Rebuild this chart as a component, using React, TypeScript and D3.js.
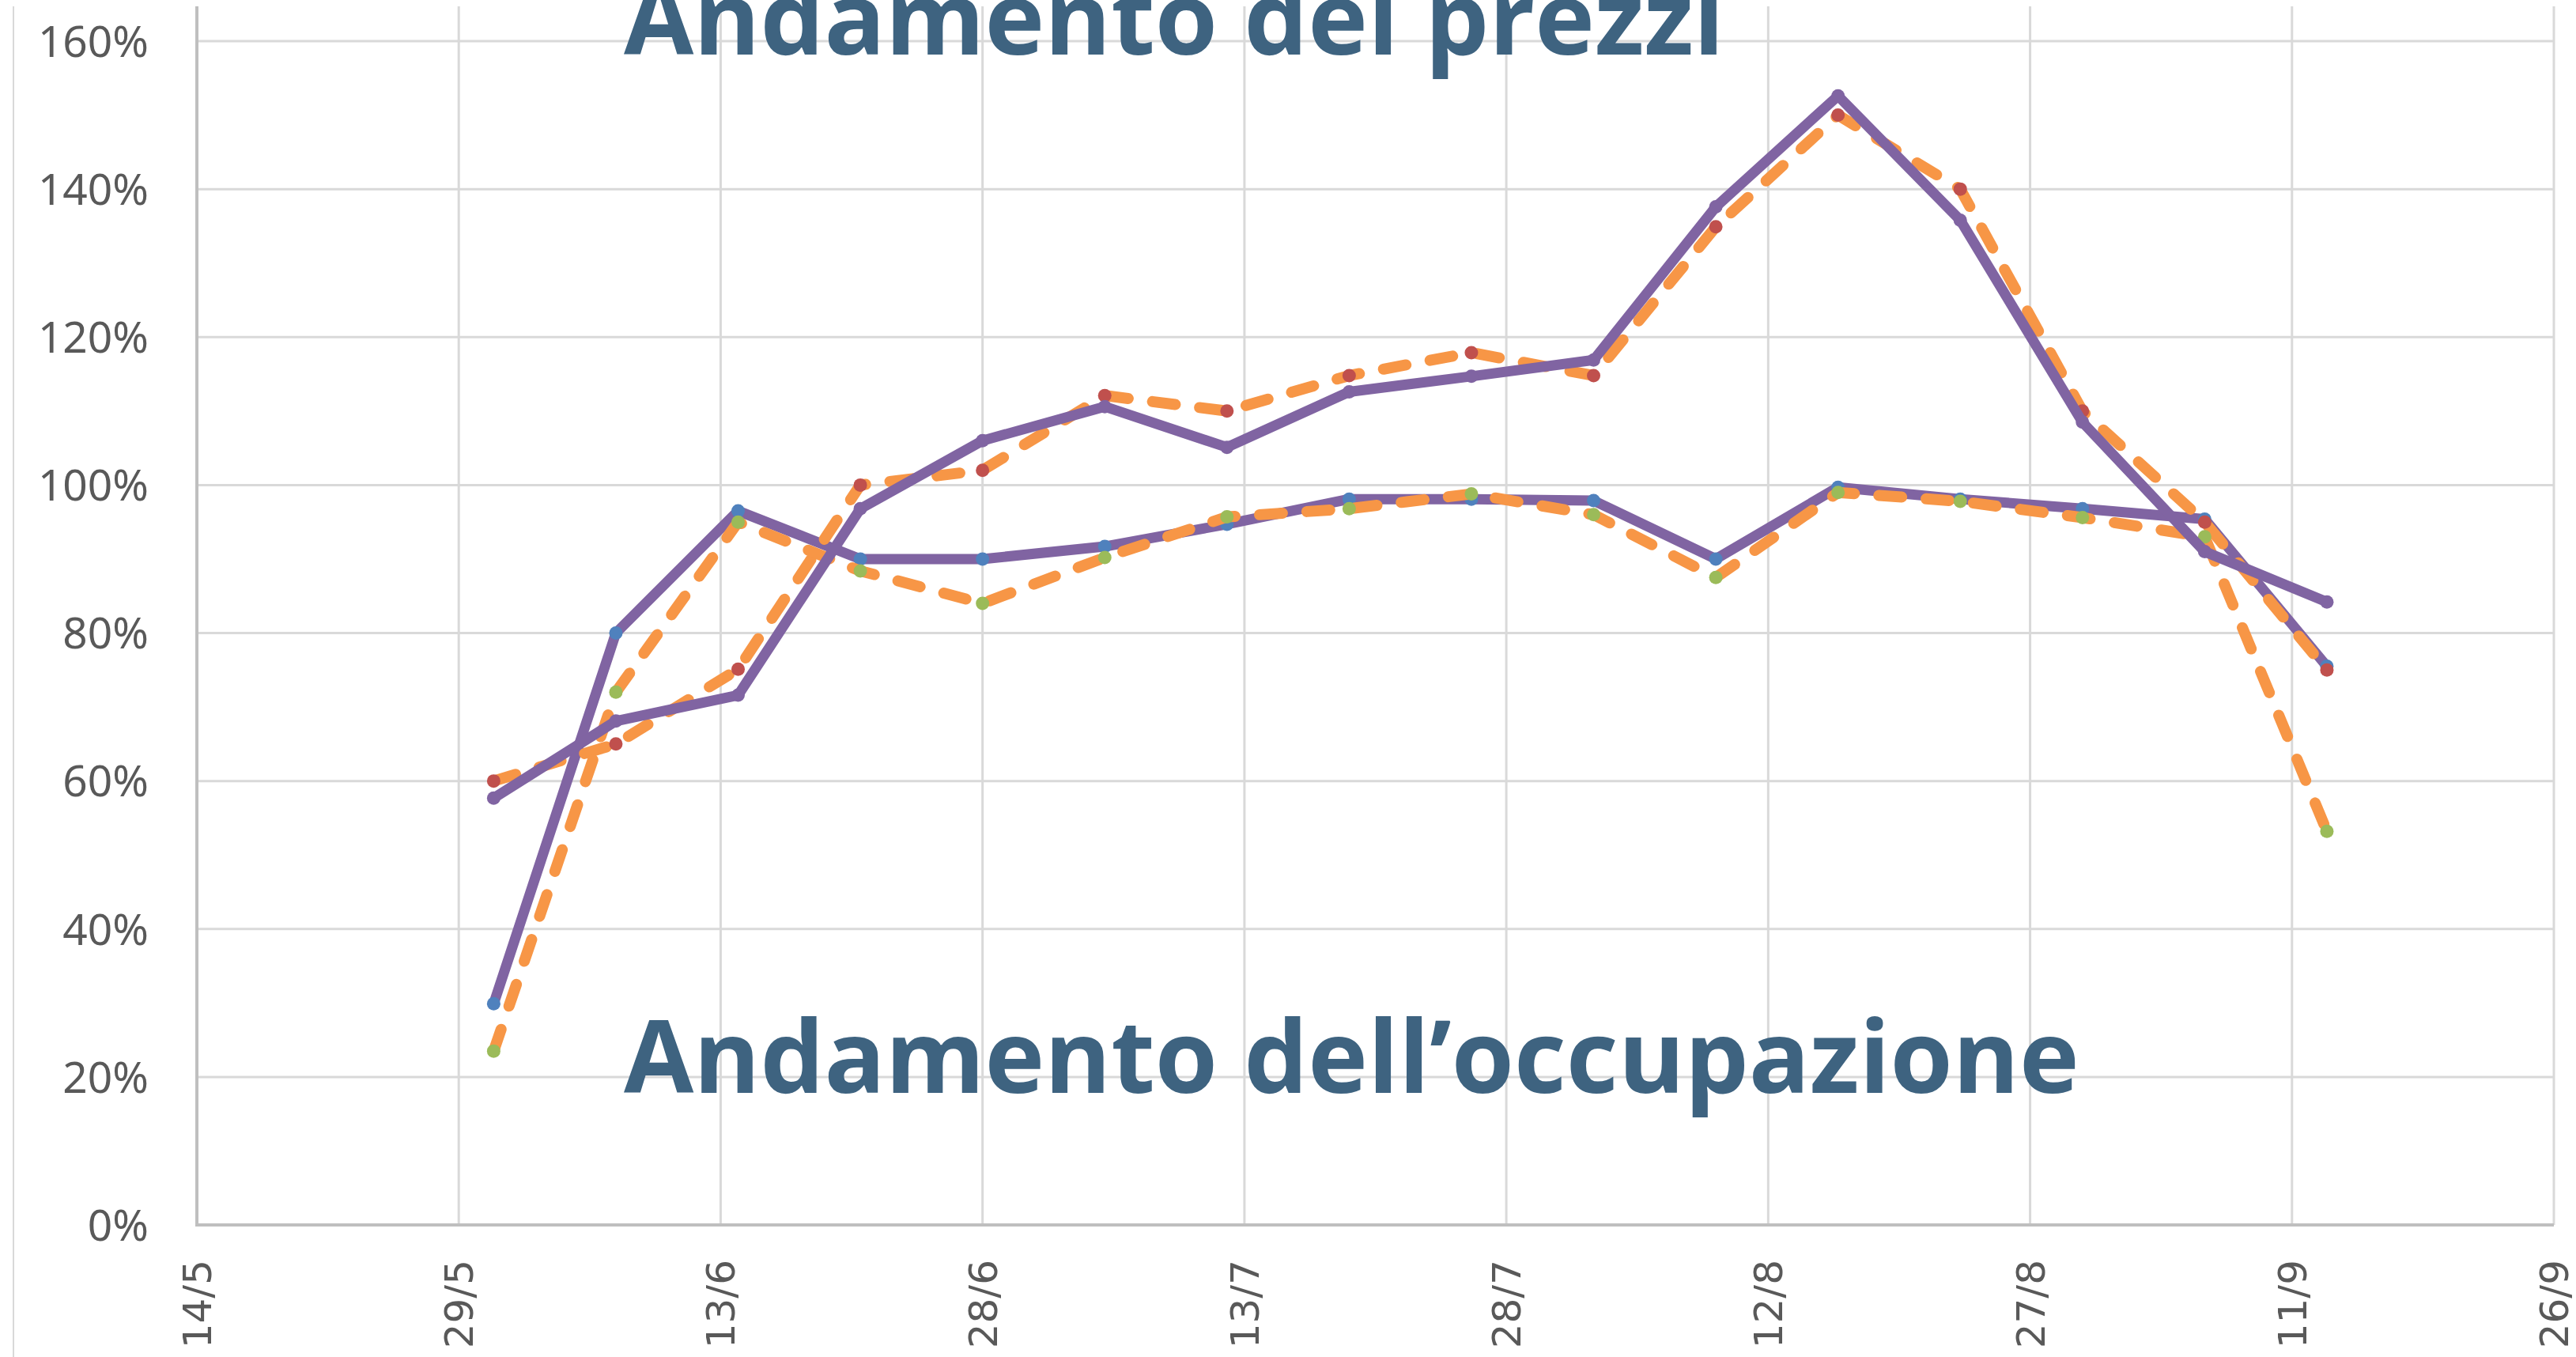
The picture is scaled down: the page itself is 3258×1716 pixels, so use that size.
import { useEffect, useRef } from "react";
import * as d3 from "d3";

// weekly dates (dd/m)
const dates = ["31/5", "7/6", "14/6", "21/6", "28/6", "5/7", "12/7", "19/7", "26/7", "2/8", "9/8", "16/8", "23/8", "30/8", "6/9", "13/9"];

// occupancy, solid purple line with blue markers
const occupazioneA = [29.9, 80, 96.5, 90, 90, 91.7, 94.7, 98.1, 98.1, 97.9, 90.0, 99.7, 98.1, 96.8, 95.4, 75.5];
// prices, dashed orange line with red markers
const prezziB = [60, 65, 75.1, 100, 102, 112.1, 110, 114.8, 117.9, 114.8, 134.9, 150, 140, 110, 95, 75];
// occupancy, dashed orange line with green markers
const occupazioneB = [23.5, 72, 95, 88.4, 84, 90.2, 95.7, 96.8, 98.8, 96.0, 87.5, 99.0, 97.8, 95.6, 93.0, 53.2];
// prices, solid purple line
const prezziA = [57.7, 68.1, 71.6, 96.8, 106, 110.6, 105.1, 112.6, 114.7, 116.9, 137.6, 152.6, 135.8, 108.5, 91.0, 84.2];

const xTickLabels = ["14/5", "29/5", "13/6", "28/6", "13/7", "28/7", "12/8", "27/8", "11/9", "26/9"];
const yTicks = [0, 20, 40, 60, 80, 100, 120, 140, 160];

const parse = (s: string) => {
  const [d, m] = s.split("/").map(Number);
  return new Date(2019, m - 1, d);
};

function Chart() {
  const ref = useRef<SVGSVGElement>(null);

  useEffect(() => {
    if (!ref.current) return;
    const svg = d3.select(ref.current);
    svg.selectAll("*").remove();

    const W = 3258, H = 1716;
    const left = 249, right = 3230, top = 52, bottom = 1549;

    const x = d3
      .scaleTime()
      .domain([parse(xTickLabels[0]), parse(xTickLabels[xTickLabels.length - 1])])
      .range([left, right]);
    const y = d3.scaleLinear().domain([0, 160]).range([bottom, top]);

    svg.append("rect").attr("width", W).attr("height", H).attr("fill", "#fff");

    // chart border (left edge)
    svg.append("line").attr("x1", 17).attr("x2", 17).attr("y1", 8).attr("y2", H)
      .attr("stroke", "#d9d9d9").attr("stroke-width", 2);

    // gridlines
    svg.append("g").selectAll("line").data(yTicks.slice(1)).enter().append("line")
      .attr("x1", left).attr("x2", right)
      .attr("y1", (d) => y(d)).attr("y2", (d) => y(d))
      .attr("stroke", "#d9d9d9").attr("stroke-width", 3);
    svg.append("g").selectAll("line").data(xTickLabels.slice(1)).enter().append("line")
      .attr("x1", (d) => x(parse(d))).attr("x2", (d) => x(parse(d)))
      .attr("y1", 8).attr("y2", bottom)
      .attr("stroke", "#d9d9d9").attr("stroke-width", 3);

    // axes
    svg.append("line").attr("x1", left).attr("x2", left).attr("y1", 8).attr("y2", bottom + 2)
      .attr("stroke", "#bfbfbf").attr("stroke-width", 4);
    svg.append("line").attr("x1", left).attr("x2", right).attr("y1", bottom).attr("y2", bottom)
      .attr("stroke", "#bfbfbf").attr("stroke-width", 4);

    // y labels
    svg.append("g").selectAll("text").data(yTicks).enter().append("text")
      .attr("x", 188).attr("y", (d) => y(d))
      .attr("dy", "0.36em")
      .attr("text-anchor", "end")
      .attr("font-family", "'Liberation Sans Narrow', 'Noto Sans', sans-serif")
      .attr("font-size", 55)
      .attr("fill", "#595959")
      .text((d) => d + "%");

    // x labels
    svg.append("g").selectAll("text").data(xTickLabels).enter().append("text")
      .attr("transform", (d) => "translate(" + (x(parse(d)) + 18) + ",1593) rotate(-90)")
      .attr("text-anchor", "end")
      .attr("font-family", "'DejaVu Sans', sans-serif")
      .attr("font-size", 50)
      .attr("fill", "#595959")
      .text((d) => d);

    // titles
    const title = svg.append("g")
      .attr("font-family", "'Open Sans', sans-serif")
      .attr("font-weight", 700)
      .attr("font-size", 128)
      .attr("fill", "#3e6380");
    title.append("text").attr("x", 789).attr("y", 69).text("Andamento dei prezzi");
    title.append("text").attr("x", 789).attr("y", 1382).text("Andamento dell\u2019occupazione");

    const series = [
      { values: occupazioneA, line: "#8064a2", marker: "#4f81bd", dash: null, w: 13 },
      { values: prezziB, line: "#f79646", marker: "#c0504d", dash: "29 31", w: 14 },
      { values: occupazioneB, line: "#f79646", marker: "#9bbb59", dash: "29 31", w: 14 },
      { values: prezziA, line: "#8064a2", marker: "#8064a2", dash: null, w: 13 },
    ];

    const line = d3
      .line<number>()
      .x((_, i) => x(parse(dates[i])))
      .y((d) => y(d));

    series.forEach((s) => {
      const g = svg.append("g");
      g.append("path")
        .attr("d", line(s.values))
        .attr("fill", "none")
        .attr("stroke", s.line)
        .attr("stroke-width", s.w)
        .attr("stroke-linejoin", "round")
        .attr("stroke-linecap", "round")
        .attr("stroke-dasharray", s.dash);
      g.selectAll("circle").data(s.values).enter().append("circle")
        .attr("cx", (_, i) => x(parse(dates[i])))
        .attr("cy", (d) => y(d))
        .attr("r", 8.5)
        .attr("fill", s.marker);
    });
  }, []);

  return <svg ref={ref} width={3258} height={1716} style={{ display: "block" }} />;
}

export default function App() {
  return (
    <div style={{ position: "absolute", left: 0, top: 0 }}>
      <Chart />
    </div>
  );
}
